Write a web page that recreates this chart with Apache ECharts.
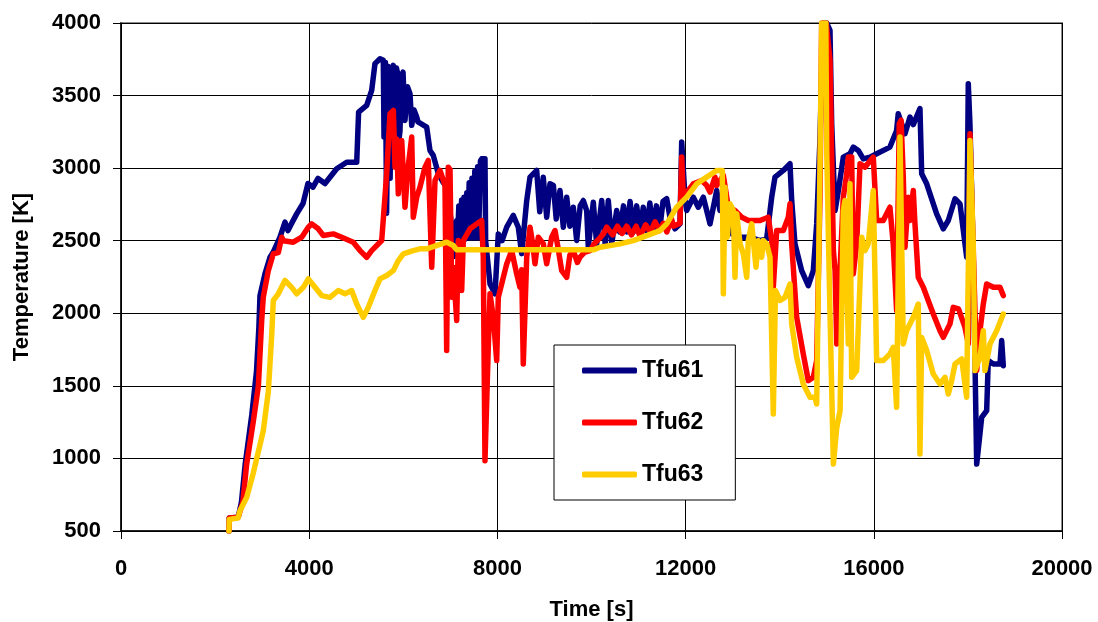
<!DOCTYPE html>
<html>
<head>
<meta charset="utf-8">
<script src="https://cdn.jsdelivr.net/npm/echarts@6/dist/echarts.min.js"></script>
<style>
  html, body { margin: 0; padding: 0; background: #fff; }
  #chart { width: 1098px; height: 622px; }
</style>
</head>
<body>
<div id="chart"></div>
<script>
// Fuel temperatures over time, [time s, temperature K]
const seriesNames = ['Tfu61', 'Tfu62', 'Tfu63'];

const tfu61 = [
  [2295,500],[2300,590],[2490,595],[2560,700],[2640,960],[2780,1300],[2880,1600],[2930,1900],
  [2954,2122],[3060,2272],[3167,2386],[3231,2418],[3379,2524],[3420,2520],[3486,2628],[3549,2570],
  [3628,2620],[3734,2685],[3868,2756],[3974,2894],[4081,2869],[4187,2929],[4336,2894],[4584,2996],
  [4797,3041],[5010,3041],[5044,3053],[5050,3386],[5222,3432],[5328,3536],[5398,3720],[5505,3754],
  [5575,3743],[5590,3214],[5620,3727],[5645,2690],[5681,3700],[5720,2930],[5750,3650],[5788,3708],
  [5810,3250],[5824,3329],[5855,3690],[5887,3640],[5910,3200],[5930,3260],[5960,3620],[5994,3662],
  [6036,3329],[6090,3560],[6142,3513],[6179,3295],[6230,3400],[6285,3352],[6312,3318],
  [6497,3283],[6567,3122],[6637,3088],[6744,2961],[6844,2903],[6922,2869],[6993,2700],[7029,2593],
  [7063,2390],[7100,2520],[7135,2639],[7150,2480],[7180,2740],[7200,2500],[7240,2780],[7260,2500],
  [7290,2800],[7310,2510],[7350,2830],[7370,2520],[7400,2900],[7420,2520],[7460,2930],[7480,2520],
  [7520,2980],[7540,2520],[7580,3010],[7600,2520],[7640,3050],[7666,3064],[7736,3064],[7750,2500],
  [7843,2202],[7949,2134],[8019,2547],[8100,2500],
  [8198,2593],[8338,2674],[8444,2593],[8516,2411],[8623,2777],[8693,2938],[8835,2984],[8900,2700],
  [8975,2938],[9048,2662],[9118,2892],[9190,2880],[9250,2650],[9330,2846],[9401,2593],[9473,2800],
  [9540,2600],[9613,2731],[9685,2501],[9760,2740],[9826,2777],[9898,2708],[9932,2455],[10038,2765],
  [10110,2478],[10217,2777],[10290,2480],[10357,2777],[10430,2480],[10536,2708],[10600,2560],
  [10680,2740],[10750,2560],[10820,2770],[10890,2560],[10960,2740],[11030,2560],[11100,2730],
  [11170,2570],[11240,2760],[11310,2570],[11380,2740],[11450,2580],[11520,2770],[11598,2790],
  [11668,2662],[11775,2582],[11881,2616],[11917,3180],[11950,3170],[11987,2800],[12023,2708],
  [12164,2800],[12270,2731],[12376,2800],[12519,2616],[12661,2846],[12731,2708],[12838,2708],
  [12908,2616],[12980,2547],[13157,2524],[13369,2524],[13581,2501],[13723,2513],[13830,2800],
  [13900,2938],[14077,2984],[14219,3030],[14255,2777],[14325,2478],[14467,2294],[14608,2190],
  [14714,2294],[14786,2616],[14856,3200],[14920,4000],[15000,4000],[15069,3950],[15105,3306],
  [15177,2708],[15247,2846],[15352,3076],[15494,3099],[15564,3145],[15670,3122],[15777,3064],
  [15919,3076],[16061,3099],[16343,3145],[16485,3260],[16519,3375],[16560,3375],[16663,3237],
  [16769,3352],[16839,3300],[16981,3410],[17018,2961],[17124,2892],[17336,2685],[17477,2582],
  [17583,2639],[17726,2789],[17832,2754],[17974,2386],[18008,3582],[18044,3300],[18114,2386],
  [18187,961],[18293,1283],[18399,1329],[18433,1674],[18540,1651],[18682,1651],[18718,1812],
  [18752,1639]
];

const tfu62 = [
  [2295,500],[2300,590],[2490,595],[2590,700],[2670,960],[2810,1250],[2920,1500],[2990,1950],
  [3024,2110],[3131,2294],[3237,2410],[3343,2418],[3416,2524],[3450,2500],[3662,2490],[3841,2524],
  [3981,2593],[4053,2616],[4193,2582],[4300,2536],[4512,2547],[4691,2524],[4937,2490],[5080,2432],
  [5222,2386],[5328,2432],[5541,2501],[5647,2961],[5717,3375],[5788,3398],[5824,3007],[5860,3200],
  [5894,2823],[5966,3191],[6036,2731],[6100,3000],[6179,3214],[6212,2662],[6285,2800],[6355,2869],
  [6461,3007],[6531,3053],[6604,2317],[6674,2915],[6780,2984],[6886,2881],[6922,1743],[6956,3007],
  [6993,2990],[7029,2110],[7063,2317],[7135,1950],[7169,2501],[7241,2157],[7275,2501],[7418,2582],
  [7560,2616],[7666,2639],[7700,2386],[7736,984],[7770,984],[7806,1765],[7843,2134],[7913,1972],
  [7985,1674],[8019,2110],[8198,2340],[8304,2432],[8410,2271],[8480,2179],[8516,2300],[8550,1651],
  [8623,2386],[8693,2593],[8750,2480],[8799,2341],[8869,2524],[8975,2480],[9048,2341],[9154,2524],
  [9224,2570],[9290,2450],[9366,2294],[9473,2248],[9540,2400],[9613,2432],[9700,2350],[9755,2386],
  [9850,2420],[9968,2432],[10060,2480],[10180,2520],[10251,2547],[10323,2593],[10450,2540],
  [10550,2600],[10650,2550],[10748,2600],[10850,2540],[10950,2600],[11031,2530],[11150,2610],
  [11250,2560],[11350,2630],[11450,2570],[11526,2620],[11600,2560],[11700,2650],[11739,2600],
  [11881,2620],[11917,3076],[11951,2800],[12164,2892],[12342,2915],[12448,2881],[12519,2835],
  [12625,2938],[12661,2880],[12802,2950],[12908,2731],[13050,2708],[13193,2662],[13333,2639],
  [13581,2639],[13757,2662],[13830,2501],[13864,2179],[13936,2570],[14077,2570],[14183,2662],
  [14219,2754],[14255,2478],[14361,1972],[14501,1720],[14608,1536],[14714,1559],[14786,1674],
  [14856,2800],[14892,4000],[14990,4000],[15069,3743],[15141,2432],[15177,2294],[15213,1789],
  [15283,2300],[15352,2800],[15420,2950],[15458,3076],[15530,3076],[15564,2271],[15636,2478],
  [15707,3030],[15813,3007],[15989,3076],[16061,2639],[16201,2639],[16343,2731],[16413,2478],
  [16485,2019],[16541,3306],[16580,3330],[16627,2938],[16663,2455],[16733,2800],[16769,2640],
  [16839,2846],[16875,2616],[16945,2248],[17052,2179],[17264,1995],[17407,1880],[17477,1834],
  [17619,1927],[17689,2041],[17800,2030],[17938,1903],[18008,1789],[18044,3237],[18114,2432],
  [18187,1605],[18257,1880],[18327,2064],[18399,2202],[18540,2179],[18682,2179],[18752,2122]
];

const tfu63 = [
  [2295,500],[2300,580],[2490,590],[2529,640],[2670,730],[2812,900],[3024,1190],[3131,1460],
  [3203,1850],[3237,2088],[3343,2134],[3486,2226],[3628,2179],[3734,2134],[3875,2179],[3981,2237],
  [4123,2179],[4266,2122],[4442,2110],[4618,2157],[4761,2134],[4903,2157],[5010,2064],[5150,1972],
  [5256,2041],[5398,2157],[5505,2237],[5647,2260],[5788,2294],[5894,2363],[6000,2410],[6212,2432],
  [6355,2444],[6497,2444],[6922,2490],[7063,2467],[7135,2437],[10038,2437],[10180,2455],
  [10606,2478],[10888,2501],[11456,2570],[11598,2616],[11811,2731],[12023,2800],[12236,2892],
  [12448,2938],[12661,2984],[12780,2984],[12802,2134],[12838,2869],[12886,2524],[12944,2754],
  [13014,2708],[13050,2248],[13086,2685],[13157,2478],[13227,2410],[13299,2248],[13333,2501],
  [13405,2616],[13496,2317],[13545,2501],[13617,2386],[13651,2501],[13723,2478],[13794,2386],
  [13864,1306],[13900,1306],[13910,2157],[14006,2088],[14113,2110],[14219,2202],[14255,1927],
  [14361,1697],[14501,1513],[14644,1421],[14750,1421],[14786,1375],[14856,3000],[14892,4000],
  [14980,4000],[15000,3100],[15069,2000],[15141,961],[15213,1214],[15283,1329],[15352,2708],
  [15388,2777],[15458,1789],[15494,2892],[15530,1559],[15636,1605],[15743,2524],[15813,2432],
  [15883,2478],[15989,2846],[16061,1674],[16201,1674],[16343,1720],[16413,1766],[16485,1352],
  [16556,3214],[16627,1789],[16697,1880],[16839,1972],[16945,2064],[16981,1031],[17018,1834],
  [17124,1743],[17264,1582],[17407,1513],[17513,1559],[17583,1444],[17655,1536],[17726,1651],
  [17868,1686],[17974,1421],[18044,3191],[18114,2478],[18151,1605],[18257,1697],[18327,1880],
  [18363,1605],[18469,1789],[18611,1880],[18752,1995]
];

const seriesData = [tfu61, tfu62, tfu63];
const seriesColors = ['#000080', '#ff0000', '#ffcc00'];

const FONT = '"Liberation Sans", Arial, sans-serif';
const plainNumber = v => String(v);
const chart = echarts.init(document.getElementById('chart'), null, { renderer: 'canvas' });

chart.setOption({
  backgroundColor: '#ffffff',
  animation: false,
  grid: {
    left: 121, right: 36, top: 23, bottom: 91,
    outerBoundsMode: 'none',
    containLabel: false,
    show: true, borderColor: '#8c8c8c', borderWidth: 2, backgroundColor: 'transparent'
  },
  xAxis: {
    type: 'value', min: 0, max: 20000, interval: 4000,
    name: 'Time [s]', nameLocation: 'middle', nameGap: 68,
    nameTextStyle: { fontFamily: FONT, fontWeight: 'bold', fontSize: 22, color: '#000' },
    axisLine: { show: true, onZero: false, lineStyle: { color: '#000', width: 1.5 } },
    axisTick: { show: true, inside: false, length: 8, lineStyle: { color: '#000' } },
    axisLabel: { margin: 27, formatter: plainNumber, fontFamily: FONT, fontWeight: 'bold', fontSize: 22, color: '#000' },
    splitLine: { show: true, lineStyle: { color: '#000', width: 1 } }
  },
  yAxis: {
    type: 'value', min: 500, max: 4000, interval: 500,
    name: 'Temperature [K]', nameLocation: 'middle', nameGap: 88,
    nameTextStyle: { fontFamily: FONT, fontWeight: 'bold', fontSize: 22, color: '#000' },
    axisLine: { show: true, onZero: false, lineStyle: { color: '#000', width: 1.5 } },
    axisTick: { show: true, inside: false, length: 8, lineStyle: { color: '#000' } },
    axisLabel: { margin: 20, formatter: plainNumber, fontFamily: FONT, fontWeight: 'bold', fontSize: 22, color: '#000' },
    splitLine: { show: true, lineStyle: { color: '#000', width: 1 } }
  },
  legend: {
    orient: 'vertical',
    left: 554, top: 345,
    padding: [14, 32, 14, 28],
    backgroundColor: '#fff',
    borderColor: '#000', borderWidth: 1,
    itemWidth: 55, itemHeight: 6, itemGap: 29,
    icon: 'roundRect',
    textStyle: { fontFamily: FONT, fontWeight: 'bold', fontSize: 23, color: '#000' },
    data: seriesNames
  },
  series: seriesNames.map((name, i) => ({
    name,
    type: 'line',
    data: seriesData[i],
    showSymbol: false,
    symbol: 'none',
    smooth: false,
    clip: true,
    color: seriesColors[i],
    lineStyle: { color: seriesColors[i], width: 5.5, cap: 'round', join: 'round' },
    z: 2 + i
  }))
});
</script>
</body>
</html>
